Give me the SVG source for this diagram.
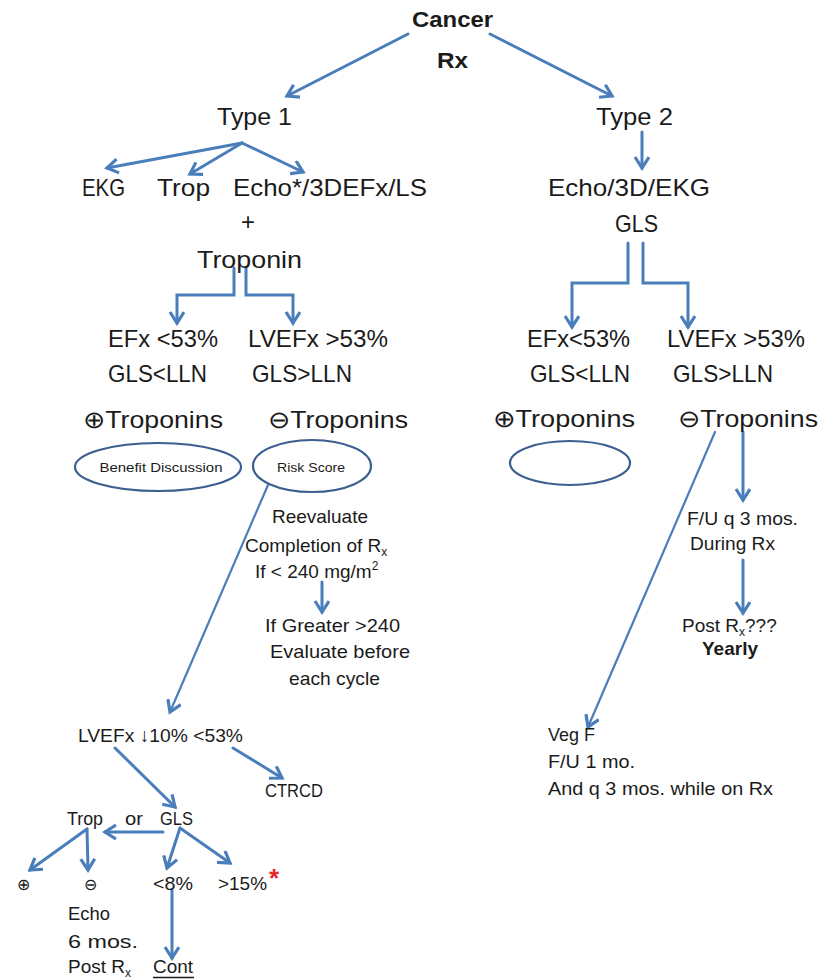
<svg xmlns="http://www.w3.org/2000/svg" width="823" height="979" viewBox="0 0 823 979">
<defs>
<marker id="ah" markerUnits="userSpaceOnUse" markerWidth="20" markerHeight="20" refX="13" refY="8" orient="auto">
<path d="M2,1 L13,8 L2,15" fill="none" stroke="#4a7ebb" stroke-width="3.2" stroke-linejoin="miter"/>
</marker>
<style>
text{font-family:"Liberation Sans",Arial,sans-serif;fill:#1b1b1b}
.l{font-size:24px}
.m{font-size:19px}
.s{font-size:13px}
.b{font-weight:bold}
.c{fill:none;stroke:#4a7ebb;stroke-width:3;stroke-linecap:round;stroke-linejoin:miter}
.a{marker-end:url(#ah)}
.e{fill:none;stroke:#3c5f8f;stroke-width:2.2}
</style>
</defs>
<rect width="823" height="979" fill="#ffffff"/>

<g id="connectors">
<path class="c a" d="M408,34 L287,96"/>
<path class="c a" d="M490,34 L612,96"/>
<path class="c a" d="M242,143 L107,168"/>
<path class="c a" d="M242,143 L190,174"/>
<path class="c a" d="M242,143 L303,172"/>
<path class="c a" d="M234,268 L234,295 L177,295 L177,323"/>
<path class="c a" d="M246,268 L246,295 L293,295 L293,323"/>
<path class="c a" d="M642,132 L642,168"/>
<path class="c a" d="M628,243 L628,283 L572,283 L572,327"/>
<path class="c a" d="M643,243 L643,283 L688,283 L688,327"/>
<path class="c a" d="M268,485 L170,712" style="stroke-width:2.2"/>
<path class="c a" d="M322,582 L322,612"/>
<path class="c a" d="M115,748 L175,807"/>
<path class="c a" d="M233,748 L282,778"/>
<path class="c a" d="M163,832 L105,832"/>
<path class="c a" d="M87,829 L30,870"/>
<path class="c a" d="M87,829 L88,870"/>
<path class="c a" d="M180,828 L167,868"/>
<path class="c a" d="M180,828 L230,863"/>
<path class="c a" d="M172,890 L172,958"/>
<path class="c a" d="M715,432 L588,727" style="stroke-width:2.2"/>
<path class="c a" d="M743,432 L743,500"/>
<path class="c a" d="M743,560 L743,613"/>
</g>

<g id="cancer-rx">
<text class="l b" x="412" y="27" textLength="81" lengthAdjust="spacingAndGlyphs" style="font-size:22px">Cancer</text>
<text class="l b" x="437" y="68" textLength="31" lengthAdjust="spacingAndGlyphs" style="font-size:22px">Rx</text>
</g>

<g id="type1"><text class="l" x="217" y="125" textLength="75" lengthAdjust="spacingAndGlyphs">Type 1</text></g>
<g id="type2"><text class="l" x="596" y="125" textLength="77" lengthAdjust="spacingAndGlyphs">Type 2</text></g>

<g id="ekg"><text class="l" x="82" y="196" textLength="43" lengthAdjust="spacingAndGlyphs">EKG</text></g>
<g id="trop"><text class="l" x="157" y="196" textLength="53" lengthAdjust="spacingAndGlyphs">Trop</text></g>
<g id="echo1"><text class="l" x="233" y="196" textLength="194" lengthAdjust="spacingAndGlyphs">Echo*/3DEFx/LS</text></g>
<g id="plus"><text class="l" x="248" y="230" text-anchor="middle">+</text></g>
<g id="troponin"><text class="l" x="197" y="268" textLength="105" lengthAdjust="spacingAndGlyphs">Troponin</text></g>

<g id="echo2"><text class="l" x="548" y="196" textLength="162" lengthAdjust="spacingAndGlyphs">Echo/3D/EKG</text></g>
<g id="gls2"><text class="l" x="615" y="232" textLength="43" lengthAdjust="spacingAndGlyphs">GLS</text></g>

<g id="left-low">
<text class="l" x="108" y="347" textLength="110" lengthAdjust="spacingAndGlyphs">EFx &lt;53%</text>
<text class="l" x="108" y="382" textLength="99" lengthAdjust="spacingAndGlyphs">GLS&lt;LLN</text>
</g>
<g id="left-high">
<text class="l" x="248" y="347" textLength="140" lengthAdjust="spacingAndGlyphs">LVEFx &gt;53%</text>
<text class="l" x="252" y="382" textLength="100" lengthAdjust="spacingAndGlyphs">GLS&gt;LLN</text>
</g>
<g id="right-low">
<text class="l" x="527" y="347" textLength="103" lengthAdjust="spacingAndGlyphs">EFx&lt;53%</text>
<text class="l" x="530" y="382" textLength="100" lengthAdjust="spacingAndGlyphs">GLS&lt;LLN</text>
</g>
<g id="right-high">
<text class="l" x="667" y="347" textLength="138" lengthAdjust="spacingAndGlyphs">LVEFx &gt;53%</text>
<text class="l" x="673" y="382" textLength="100" lengthAdjust="spacingAndGlyphs">GLS&gt;LLN</text>
</g>

<g id="pos-trop-left"><text class="l" x="83" y="428" textLength="140" lengthAdjust="spacingAndGlyphs">⊕Troponins</text></g>
<g id="neg-trop-left"><text class="l" x="268" y="428" textLength="140" lengthAdjust="spacingAndGlyphs">⊖Troponins</text></g>
<g id="pos-trop-right"><text class="l" x="493" y="427" textLength="142" lengthAdjust="spacingAndGlyphs">⊕Troponins</text></g>
<g id="neg-trop-right"><text class="l" x="678" y="427" textLength="140" lengthAdjust="spacingAndGlyphs">⊖Troponins</text></g>

<g id="benefit">
<ellipse class="e" cx="158" cy="467" rx="83" ry="24"/>
<text class="s" x="161" y="472" text-anchor="middle" textLength="123" lengthAdjust="spacingAndGlyphs">Benefit Discussion</text>
</g>
<g id="risk">
<ellipse class="e" cx="312" cy="466" rx="59" ry="26"/>
<text class="s" x="311" y="472" text-anchor="middle" textLength="68" lengthAdjust="spacingAndGlyphs">Risk Score</text>
</g>
<g id="empty-ellipse"><ellipse class="e" cx="570" cy="463" rx="60" ry="22"/></g>

<g id="reevaluate">
<text class="m" x="272" y="523" textLength="96" lengthAdjust="spacingAndGlyphs">Reevaluate</text>
<text class="m" x="245" y="552">Completion of R<tspan font-size="12" dy="4">x</tspan></text>
<text class="m" x="255" y="578">If &lt; 240 mg/m<tspan font-size="12" dy="-8">2</tspan></text>
</g>
<g id="greater">
<text class="m" x="265" y="632" textLength="135" lengthAdjust="spacingAndGlyphs">If Greater &gt;240</text>
<text class="m" x="270" y="658" textLength="140" lengthAdjust="spacingAndGlyphs">Evaluate before</text>
<text class="m" x="289" y="685" textLength="91" lengthAdjust="spacingAndGlyphs">each cycle</text>
</g>

<g id="lvefx-drop"><text class="m" x="78" y="742" textLength="165" lengthAdjust="spacingAndGlyphs">LVEFx ↓10% &lt;53%</text></g>
<g id="ctrcd"><text class="m" x="265" y="797" textLength="58" lengthAdjust="spacingAndGlyphs">CTRCD</text></g>

<g id="trop-or-gls">
<text class="m" x="67" y="825" textLength="36" lengthAdjust="spacingAndGlyphs">Trop</text>
<text class="m" x="125" y="825" textLength="18" lengthAdjust="spacingAndGlyphs">or</text>
<text class="m" x="160" y="825" textLength="33" lengthAdjust="spacingAndGlyphs">GLS</text>
</g>
<g id="pos"><text class="m" x="23" y="890" text-anchor="middle" style="font-size:16px">⊕</text></g>
<g id="neg"><text class="m" x="90" y="890" text-anchor="middle" style="font-size:16px">⊖</text></g>
<g id="lt8"><text class="m" x="153" y="890" textLength="40" lengthAdjust="spacingAndGlyphs">&lt;8%</text></g>
<g id="gt15">
<text class="m" x="218" y="890" textLength="49" lengthAdjust="spacingAndGlyphs">&gt;15%</text>
<text x="269" y="887" style="font-size:26px;font-weight:bold;fill:#e8262a">*</text>
</g>
<g id="echo6">
<text class="m" x="68" y="920" textLength="42" lengthAdjust="spacingAndGlyphs">Echo</text>
<text class="m" x="68" y="948" textLength="70" lengthAdjust="spacingAndGlyphs">6 mos.</text>
<text class="m" x="68" y="973">Post R<tspan font-size="12" dy="4">x</tspan></text>
</g>
<g id="cont">
<text class="m" x="153" y="973" textLength="40" lengthAdjust="spacingAndGlyphs">Cont</text>
<line x1="153" y1="977.5" x2="194" y2="977.5" stroke="#1b1b1b" stroke-width="1.6"/>
</g>

<g id="fu3">
<text class="m" x="687" y="525" textLength="111" lengthAdjust="spacingAndGlyphs">F/U q 3 mos.</text>
<text class="m" x="690" y="550" textLength="85" lengthAdjust="spacingAndGlyphs">During Rx</text>
</g>
<g id="post-rx">
<text class="m" x="682" y="632">Post R<tspan font-size="12" dy="4">x</tspan><tspan dy="-4">???</tspan></text>
<text class="m b" x="702" y="655" textLength="56" lengthAdjust="spacingAndGlyphs">Yearly</text>
</g>
<g id="veg">
<text class="m" x="548" y="741" textLength="47" lengthAdjust="spacingAndGlyphs">Veg F</text>
<text class="m" x="548" y="768" textLength="87" lengthAdjust="spacingAndGlyphs">F/U 1 mo.</text>
<text class="m" x="548" y="795" textLength="225" lengthAdjust="spacingAndGlyphs">And q 3 mos. while on Rx</text>
</g>
</svg>
